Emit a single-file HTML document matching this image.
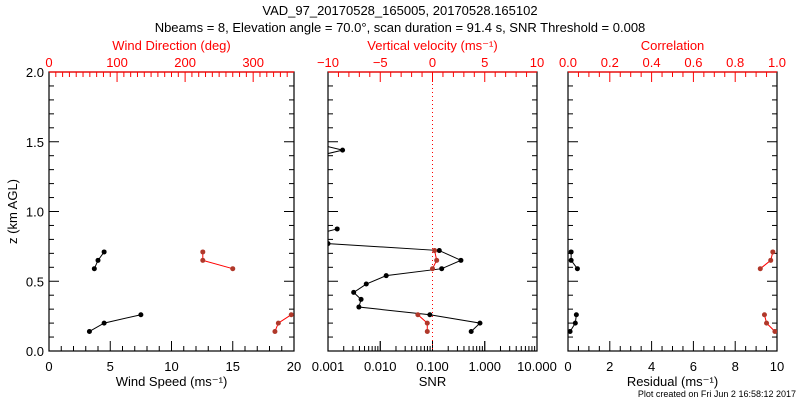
<!DOCTYPE html>
<html><head><meta charset="utf-8"><style>
body{margin:0;background:#fff;width:800px;height:400px;overflow:hidden}
svg text{font-family:"Liberation Sans",sans-serif;font-size:13px}
</style></head><body>
<svg id="chart" width="800" height="400" xmlns="http://www.w3.org/2000/svg">
<text x="400" y="15" text-anchor="middle">VAD_97_20170528_165005, 20170528.165102</text>
<text x="400" y="32" text-anchor="middle">Nbeams = 8, Elevation angle = 70.0°, scan duration = 91.4 s, SNR Threshold = 0.008</text>
<text x="796" y="397" text-anchor="end" style="font-size:9px">Plot created on Fri Jun  2 16:58:12 2017</text>
</svg>
<script>
// Wind panel data
const windZ = [0.14, 0.20, 0.26, 0.59, 0.65, 0.71];
const windSpeed = [3.3, 4.5, 7.5, 3.7, 4.0, 4.5];
const windDir = [332, 337, 356, 270, 226, 226];
const windGroups = [[0,1,2],[3,4,5]];
// SNR / vertical velocity
const snrZ = [1.50, 1.44, 1.38, 0.875, 0.81, 0.77, 0.72, 0.65, 0.59, 0.54, 0.48, 0.42, 0.37, 0.315, 0.26, 0.20, 0.14];
const snrVal = [0.0004, 0.0019, 0.0004, 0.0015, 0.0003, 0.001, 0.135, 0.35, 0.15, 0.013, 0.0054, 0.0031, 0.0043, 0.0039, 0.089, 0.81, 0.55];
const snrGroups = [[0,1,2],[3,4],[5,6,7,8,9,10,11,12,13,14,15,16]];
const velZ = [0.72, 0.65, 0.59, 0.26, 0.20, 0.14];
const velVal = [0.2, 0.4, 0.0, -1.4, -0.5, -0.5];
// Residual / correlation
const resZ = [0.71, 0.65, 0.59, 0.26, 0.20, 0.14];
const resVal = [0.15, 0.15, 0.45, 0.4, 0.35, 0.1];
const corVal = [0.98, 0.97, 0.92, 0.94, 0.95, 0.99];
const zTicks = ["0.0","0.5","1.0","1.5","2.0"];

const svg = document.getElementById('chart');
const NS = 'http://www.w3.org/2000/svg';
const RED = '#ff0000', MRK = '#b0382a';
function el(tag, attrs, parent){const e=document.createElementNS(NS,tag);for(const k in attrs)e.setAttribute(k,attrs[k]);(parent||svg).appendChild(e);return e;}
const TOP=72, BOT=351;
const yZ = z => BOT - (z/2)*(BOT-TOP);
function txt(x,y,s,anchor,color,name){const t=el('text',{x:x,y:y,'text-anchor':anchor||'middle',fill:color||'#000'});t.textContent=s;


return t;}
function line(x1,y1,x2,y2,c,extra){const l=el('line',Object.assign({x1:x1,y1:y1,x2:x2,y2:y2,stroke:c||'#000','stroke-width':1},extra||{}));


return l;}

function panel(x0,x1,name){
  const r=el('rect',{x:x0,y:TOP,width:x1-x0,height:BOT-TOP,fill:'none',stroke:'#000','stroke-width':1.2});
  
  
  for(let i=0;i<=20;i++){const z=i*0.1, y=yZ(z), len=(i%5===0)?10:5;
    line(x0,y,x0+len,y); line(x1,y,x1-len,y);}
  const cp=el('clipPath',{id:'clip-'+name}); el('rect',{x:x0,y:TOP,width:x1-x0,height:BOT-TOP},cp);
}
function xAxisBottom(x0,x1,min,max,major,minor,labels,fmt,name){
  const sx=v=>x0+(v-min)/(max-min)*(x1-x0);
  const n=Math.round((max-min)/minor);
  for(let i=0;i<=n;i++){const v=min+i*minor, x=sx(v); const isMaj=Math.abs(((v-min)/major)-Math.round((v-min)/major))<1e-6;
    line(x,BOT,x,BOT-(isMaj?10:5));}
  labels.forEach(v=>txt(sx(v),BOT+20,fmt(v),'middle','#000',name+'-tick-label'));
  return sx;
}
function xAxisTop(x0,x1,min,max,major,minor,labels,fmt,name){
  const sx=v=>x0+(v-min)/(max-min)*(x1-x0);
  const n=Math.round((max-min)/minor);
  for(let i=0;i<=n;i++){const v=min+i*minor, x=sx(v); const isMaj=Math.abs(((v-min)/major)-Math.round((v-min)/major))<1e-6;
    if(i===0||i===n){line(x,TOP,x,TOP+(isMaj?10:5),'#000');continue;}
    line(x,TOP,x,TOP+(isMaj?10:5),RED);}
  line(x0,TOP,x1,TOP,RED,{'stroke-width':1.2});
  labels.forEach(v=>txt(sx(v),TOP-5,fmt(v),'middle',RED,name+'-tick-label'));
  return sx;
}
function series(pts,color,mcolor,name,clip){
  const g=el('g',clip?{'clip-path':'url(#clip-'+clip+')'}:{});
  
  
  el('polyline',{points:pts.map(p=>p.join(',')).join(' '),fill:'none',stroke:color,'stroke-width':1},g);
  pts.forEach(p=>{const c=el('circle',{cx:p[0],cy:p[1],r:2.5,fill:mcolor},g);
    
    });
}

// Panel 1
const L0=49,L1=294;
panel(L0,L1,'wind');
zTicks.forEach((s,i)=>txt(L0-5,yZ(i*0.5)+5,s,'end','#000','z-tick-label'));
const ty=txt(0,0,'z (km AGL)','middle','#000','y-axis-title'); ty.setAttribute('transform','translate(17,'+yZ(1)+') rotate(-90)');
const sxSpd=xAxisBottom(L0,L1,0,20,5,1,[0,5,10,15,20],v=>String(v),'wind-speed');
const sxDir=xAxisTop(L0,L1,0,360,100,10,[0,100,200,300],v=>String(v),'wind-dir');
txt((L0+L1)/2,BOT+35,'Wind Speed (ms⁻¹)','middle','#000','wind-speed-axis-title');
txt((L0+L1)/2,TOP-22,'Wind Direction (deg)','middle',RED,'wind-dir-axis-title');
windGroups.forEach((g,k)=>{
  series(g.map(i=>[sxSpd(windSpeed[i]),yZ(windZ[i])]),'#000','#000','wind-speed-series-'+k,'wind');
  series(g.map(i=>[sxDir(windDir[i]),yZ(windZ[i])]),RED,MRK,'wind-dir-series-'+k,'wind');
});

// Panel 2
const M0=328,M1=537;
panel(M0,M1,'snr');
const sxSnr=v=>M0+(Math.log10(v)+3)/4*(M1-M0);
for(let d=-3;d<1;d++){for(let m=1;m<=10;m++){const x=sxSnr(m*Math.pow(10,d));line(x,BOT,x,BOT-((m===1||m===10)?10:5));}}
["0.001","0.010","0.100","1.000","10.000"].forEach((s,i)=>txt(M0+i*(M1-M0)/4,BOT+20,s,'middle','#000','snr-tick-label'));
const sxVel=xAxisTop(M0,M1,-10,10,5,1,[-10,-5,0,5,10],v=>v<0?'−'+(-v):String(v),'velocity');
line(sxVel(0),TOP,sxVel(0),BOT,RED,{'stroke-dasharray':'1,3'});
txt((M0+M1)/2,BOT+35,'SNR','middle','#000','snr-axis-title');
txt((M0+M1)/2,TOP-22,'Vertical velocity (ms⁻¹)','middle',RED,'velocity-axis-title');
snrGroups.forEach((g,k)=>series(g.map(i=>[sxSnr(snrVal[i]),yZ(snrZ[i])]),'#000','#000','snr-series-'+k,'snr'));
series(velZ.slice(0,3).map((z,i)=>[sxVel(velVal[i]),yZ(z)]),RED,MRK,'velocity-series-upper','snr');
series(velZ.slice(3).map((z,i)=>[sxVel(velVal[i+3]),yZ(z)]),RED,MRK,'velocity-series-lower','snr');

// Panel 3
const R0=568,R1=777;
panel(R0,R1,'res');
const sxRes=xAxisBottom(R0,R1,0,10,2,0.5,[0,2,4,6,8,10],v=>String(v),'residual');
const sxCor=xAxisTop(R0,R1,0,1,0.2,0.05,[0,0.2,0.4,0.6,0.8,1],v=>v.toFixed(1),'correlation');
txt((R0+R1)/2,BOT+35,'Residual (ms⁻¹)','middle','#000','residual-axis-title');
txt((R0+R1)/2,TOP-22,'Correlation','middle',RED,'correlation-axis-title');
[[0,1,2],[3,4,5]].forEach((g,k)=>{
  series(g.map(i=>[sxRes(resVal[i]),yZ(resZ[i])]),'#000','#000','residual-series-'+k,'res');
  series(g.map(i=>[sxCor(corVal[i]),yZ(resZ[i])]),RED,MRK,'correlation-series-'+k,'res');
});
</script>
</body></html>
